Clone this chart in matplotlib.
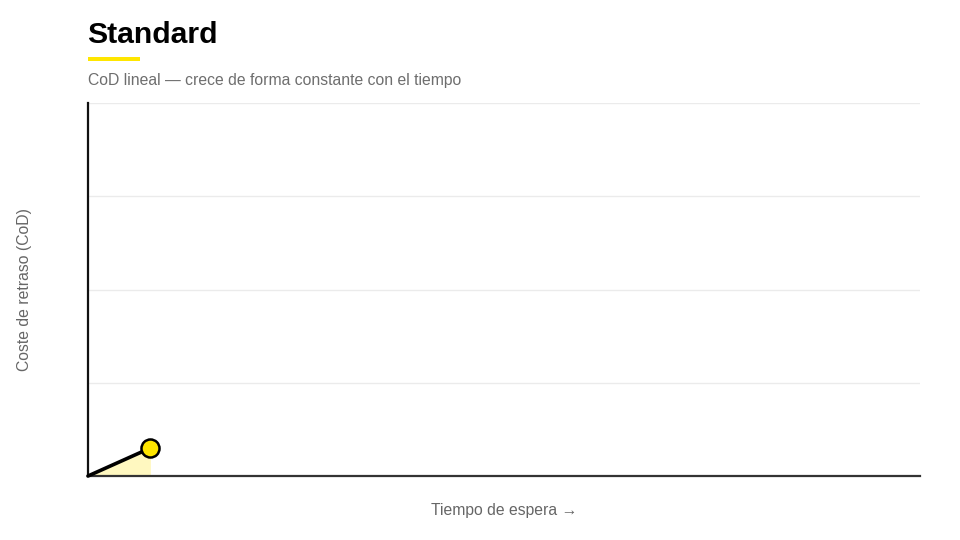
import matplotlib
matplotlib.use("Agg")
import matplotlib.pyplot as plt
from matplotlib.patches import Rectangle

plt.rcParams['font.family'] = ['Liberation Sans', 'DejaVu Sans']

# Data
wait_time = [0, 7.5]
cod_values = [0, 7.5]
x_max = 100
y_max = 100
y_ticks = [0, 25, 50, 75, 100]

title = "Standard"
subtitle = "CoD lineal \u2014 crece de forma constante con el tiempo"
xlabel = "Tiempo de espera \u2192"
ylabel = "Coste de retraso (CoD)"

YELLOW = "#FFE600"
FILL = "#FFF8C0"

fig = plt.figure(figsize=(9.6, 5.4), dpi=100)
ax = fig.add_axes([88/960, 1-476/540, (920-88)/960, (476-103)/540])

ax.set_xlim(0, x_max)
ax.set_ylim(0, y_max)
ax.set_yticks(y_ticks)
ax.grid(axis='y', color='#ebebeb', linewidth=1)
ax.set_axisbelow(True)
ax.tick_params(left=False, bottom=False, labelleft=False, labelbottom=False)
for s in ['top', 'right']:
    ax.spines[s].set_visible(False)
ax.spines['left'].set_color('#111111')
ax.spines['left'].set_linewidth(1.6)
ax.spines['bottom'].set_color('#333333')
ax.spines['bottom'].set_linewidth(1.6)

ax.fill_between(wait_time, 0, cod_values, color=FILL, zorder=2, linewidth=0)
ax.plot(wait_time, cod_values, color='black', linewidth=2.6, zorder=3,
        solid_capstyle='round', clip_on=False)
ax.plot(wait_time[-1], cod_values[-1], 'o', markersize=13, markerfacecolor=YELLOW,
        markeredgecolor='black', markeredgewidth=1.8, zorder=4, clip_on=False)

fig.text(87/960, 1-35/540, title, fontsize=21.7, fontweight='bold', color='black',
         va='center', ha='left')
fig.patches.append(Rectangle((88/960, 1-61/540), 52/960, 4/540, transform=fig.transFigure,
                             facecolor=YELLOW, edgecolor='none'))
fig.text(88/960, 1-80/540, subtitle, fontsize=11.3, color='#6e6e6e', va='center', ha='left')

fig.text(504/960, 1-511/540, xlabel, fontsize=11.3, color='#666666', va='center', ha='center')
fig.text(25/960, 1-290/540, ylabel, fontsize=11.3, color='#666666', va='center', ha='center',
         rotation=90)

fig.savefig("out.png", dpi=100, facecolor='white')
